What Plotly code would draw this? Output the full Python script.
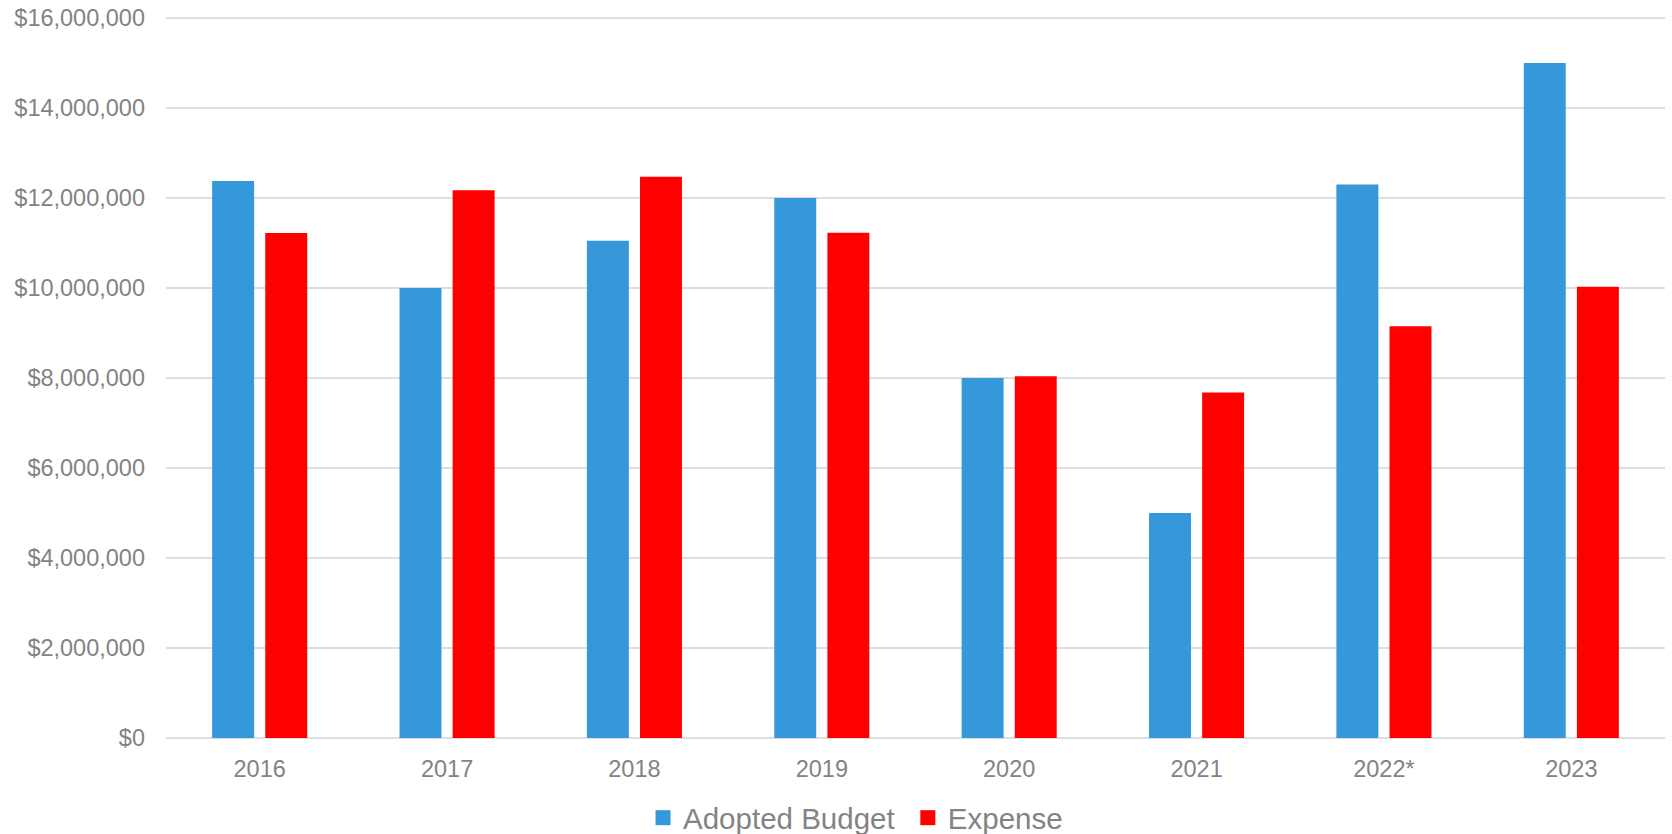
import plotly.graph_objects as go

years = ["2016", "2017", "2018", "2019", "2020", "2021", "2022*", "2023"]
adopted_budget = [12380000, 10000000, 11050000, 12000000, 8000000, 5000000, 12300000, 15000000]
expense = [11220000, 12170000, 12470000, 11230000, 8040000, 7680000, 9150000, 10030000]
y_ticks = [0, 2000000, 4000000, 6000000, 8000000, 10000000, 12000000, 14000000, 16000000]
y_tick_labels = ["${:,}".format(v) for v in y_ticks]

BLUE = "#3598db"
RED = "#ff0000"
GRAY = "#838383"
FONT = "Liberation Sans, Arial, sans-serif"

fig = go.Figure()
fig.add_trace(go.Bar(x=years, y=adopted_budget, name="Adopted Budget",
                     marker=dict(color=BLUE, line=dict(width=0)), showlegend=False))
fig.add_trace(go.Bar(x=years, y=expense, name="Expense",
                     marker=dict(color=RED, line=dict(width=0)), showlegend=False))
# legend entries as square markers
fig.add_trace(go.Scatter(x=[None], y=[None], mode="markers", name="Adopted Budget ",
                         marker=dict(symbol="square", size=15, color=BLUE)))
fig.add_trace(go.Scatter(x=[None], y=[None], mode="markers", name="Expense",
                         marker=dict(symbol="square", size=15, color=RED)))

# range top is padded by 2px so the top gridline is drawn (plotly clips grid at range ends)
plot_h = 722
y_max = 16000000 * plot_h / 720
fig.update_layout(
    width=1672, height=834,
    margin=dict(l=166, r=7, t=16, b=96, autoexpand=False),
    paper_bgcolor="white", plot_bgcolor="white",
    barmode="group", bargap=0.433, bargroupgap=0.21,
    font=dict(family=FONT, color=GRAY),
    legend=dict(orientation="h", x=0.46, xanchor="center", y=-80 / plot_h, yanchor="middle",
                font=dict(size=29.5, color=GRAY), itemwidth=30, traceorder="normal"),
    xaxis=dict(type="category", showgrid=False, zeroline=False, showline=False, automargin=False,
               tickfont=dict(size=23.5, color=GRAY), ticks="", ticklabelstandoff=14,
               ticklabeloverflow="allow"),
    yaxis=dict(range=[0, y_max], tickmode="array", tickvals=y_ticks, ticktext=y_tick_labels,
               showgrid=True, gridcolor="#dedede", gridwidth=1.5, automargin=False,
               zeroline=True, zerolinecolor="#dedede", zerolinewidth=1.5, showline=False,
               tickfont=dict(size=23.5, color=GRAY), ticks="", ticklabelstandoff=20,
               ticklabeloverflow="allow"),
)

# remove the default 8px page margin so the figure fills the window exactly
fig.write_html("out.html", config={"displayModeBar": False},
               post_script="document.body.style.margin='0';")
